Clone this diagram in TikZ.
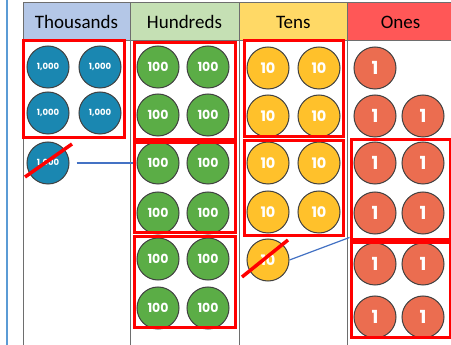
\documentclass[tikz,border=0pt]{standalone}
\usepackage{fontspec}
\setmainfont{Carlito}
\newfontfamily\coinfont{Poppins}
\definecolor{hdrT}{HTML}{B4C7E7}
\definecolor{hdrH}{HTML}{C5E0B4}
\definecolor{hdrN}{HTML}{FFD966}
\definecolor{hdrO}{HTML}{FF5757}
\definecolor{cT}{HTML}{1A87B1}
\definecolor{cH}{HTML}{5BAD46}
\definecolor{cN}{HTML}{FFC12B}
\definecolor{cO}{HTML}{EB6D50}
\definecolor{gridc}{HTML}{6E6E6E}
\definecolor{linkc}{HTML}{4472C4}
\definecolor{sidec}{HTML}{5B9BD5}
\begin{document}
\begin{tikzpicture}[x=1pt,y=-1pt,
  hdr/.style={draw=gridc,line width=1pt,inner sep=0pt,minimum height=38pt,font=\fontsize{19}{22}\selectfont,text=black},
  coin/.style={circle,draw=black!75,line width=1pt,minimum size=42pt,inner sep=0pt,text=white},
  coinT/.style={coin,fill=cT,font=\coinfont\bfseries\fontsize{8.5}{9}\selectfont},
  coinH/.style={coin,fill=cH,font=\coinfont\bfseries\fontsize{12.5}{13}\selectfont},
  coinN/.style={coin,fill=cN,font=\coinfont\bfseries\fontsize{14.5}{15}\selectfont},
  coinO/.style={coin,fill=cO,font=\coinfont\bfseries\fontsize{18}{19}\selectfont},
  redbox/.style={draw=red,line width=3pt,inner sep=0pt},
  slash/.style={red,line width=3.5pt},
  link/.style={linkc,line width=1.2pt}]
\useasboundingbox[fill=white] (0,0) rectangle (451,345);
% side line
\draw[sidec,line width=1.5pt] (7,0) -- (7,345);
% table
\draw[gridc,line width=1pt] (23,3) -- (23,345) (130,3) -- (130,345) (239,3) -- (239,345) (347.5,3) -- (347.5,345);
\node[hdr,fill=hdrT,minimum width=107pt] (hT) at (76.5,22) {Thousands};
\node[hdr,fill=hdrH,minimum width=109pt] (hH) at (184.5,22) {Hundreds};
\node[hdr,fill=hdrN,minimum width=108.5pt] (hN) at (293.25,22) {Tens};
\node[hdr,fill=hdrO,minimum width=106pt] (hO) at (400.5,22) {Ones};
% thousands
\node[coinT] (t1) at (48,67) {1,000};
\node[coinT] (t2) at (100,67) {1,000};
\node[coinT] (t3) at (48,113) {1,000};
\node[coinT] (t4) at (100,113) {1,000};
\node[coinT] (t5) at (48,163) {1,000};
% hundreds
\foreach \r/\yy in {1/67,2/115,3/163,4/213,5/259,6/308}{
  \node[coinH] (ha\r) at (158,\yy) {100};
  \node[coinH] (hb\r) at (208,\yy) {100};
}
% tens
\foreach \r/\yy in {1/68,2/116,3/163,4/212}{
  \node[coinN] (na\r) at (268,\yy) {10};
  \node[coinN] (nb\r) at (319,\yy) {10};
}
\node[coinN] (n9) at (268,260) {10};
% ones
\node[coinO] (o1) at (375,68) {1};
\foreach \r/\yy in {2/116,3/163,4/213,5/264,6/317}{
  \node[coinO] (oa\r) at (375,\yy) {1};
  \node[coinO] (ob\r) at (423,\yy) {1};
}
% red boxes
\node[redbox,minimum width=101pt,minimum height=97pt] (bT1) at (73.5,89.5) {};
\node[redbox,minimum width=101pt,minimum height=97pt] (bH1) at (184.5,91.5) {};
\node[redbox,minimum width=101pt,minimum height=90pt] (bH2) at (184.5,188) {};
\node[redbox,minimum width=101pt,minimum height=91pt] (bH3) at (184.5,282.5) {};
\node[redbox,minimum width=99pt,minimum height=96pt] (bN1) at (293.5,89) {};
\node[redbox,minimum width=99pt,minimum height=95pt] (bN2) at (293.5,188.5) {};
\node[redbox,minimum width=99pt,minimum height=100pt] (bO1) at (400.5,190) {};
\node[redbox,minimum width=99pt,minimum height=95pt] (bO2) at (400.5,290.5) {};
% slashes
\draw[slash] ([shift={(-23,14)}]t5.center) -- ([shift={(24,-19)}]t5.center);
\draw[slash] ([shift={(-26,17)}]n9.center) -- ([shift={(20,-20)}]n9.center);
% links
\draw[link] ([xshift=7pt]t5.east) -- (t5.east -| bH2.west);
\draw[link] (n9.east) -- ([yshift=4pt]bO2.north west);
\end{tikzpicture}
\end{document}
